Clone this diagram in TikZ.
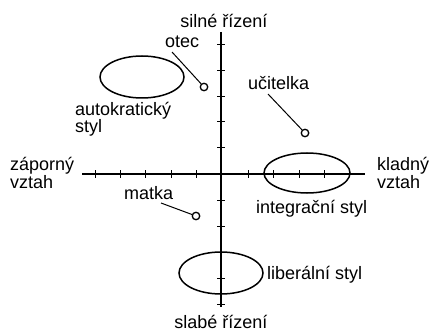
\documentclass[tikz,border=0pt]{standalone}
\usepackage{fontspec}
\setmainfont{Liberation Sans}
\usetikzlibrary{shapes.geometric}
\begin{document}
\begin{tikzpicture}[x=1pt,y=-1pt,
  lab/.style={font=\fontsize{18}{20}\selectfont, inner sep=0pt, anchor=base west},
  ell/.style={draw, ellipse, line width=1.5pt, inner sep=0pt, minimum width=84pt, minimum height=42pt},
  dot/.style={draw, circle, line width=1.3pt, inner sep=0pt, minimum size=7.5pt, fill=white},
  axis/.style={line width=1.1pt},
  tick/.style={line width=1pt},
  conn/.style={line width=1pt}]
\useasboundingbox (0,0) rectangle (433,331);
% axes
\coordinate (vt) at (221,32);
\coordinate (vb) at (221,307);
\coordinate (hl) at (82,174);
\coordinate (hr) at (365,174);
\draw[axis] (vt) -- (vb);
\draw[axis] (hl) -- (hr);
\foreach \y in {45,71,97,122,148,200,226,252,278,304}
  \draw[tick] (217,\y) -- (225,\y);
\foreach \x in {95,120,145,171,196,248,273,299,324}
  \draw[tick] (\x,170) -- (\x,178);
% ellipses
\node[ell] (auto) at (142,77) {};
\node[ell, minimum width=86pt, minimum height=40pt] (integ) at (307,173) {};
\node[ell] (lib) at (221,273) {};
% dots
\node[dot] (dotec) at (204,87) {};
\node[dot] (ducit) at (305,133) {};
\node[dot] (dmatka) at (196,216) {};
% labels
\node[lab, anchor=base] (silne) at (224,28) {silné řízení};
\node[lab, anchor=base] (slabe) at (221,328) {slabé řízení};
\node[lab] (otec) at (165,48) {otec};
\node[lab] (ucit) at (248,90) {učitelka};
\node[lab] (matka) at (124,199) {matka};
\node[lab] (autol) at (75,115.5) {autokratický};
\node[lab] (autol2) at (75,132.8) {styl};
\node[lab] (zap) at (10,170.5) {záporný};
\node[lab] (zap2) at (10,188.5) {vztah};
\node[lab] (klad) at (377,170.5) {kladný};
\node[lab] (klad2) at (377,188.5) {vztah};
\node[lab] (integl) at (256,213) {integrační styl};
\node[lab] (libl) at (267,279) {liberální styl};
% connectors
\coordinate (otecend) at (172,52);
\coordinate (ucitend) at (268,94);
\coordinate (matkaend) at (161,203);
\draw[conn] (otecend) -- (dotec);
\draw[conn] (ucitend) -- (ducit);
\draw[conn] (matkaend) -- (dmatka);
\end{tikzpicture}
\end{document}
